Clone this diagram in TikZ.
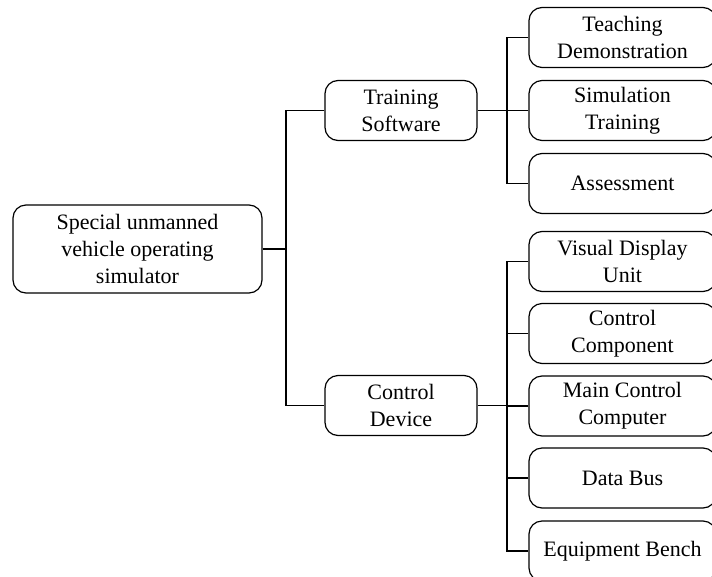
\documentclass[tikz,border=0pt]{standalone}
\usepackage{fontspec}
\setmainfont{Liberation Serif}
\begin{document}
\begin{tikzpicture}[x=1pt,y=-1pt,
  box/.style={draw,line width=1.2pt,rounded corners=13pt,align=center,
    font=\fontsize{22}{27}\selectfont,inner sep=0pt},
  rootbox/.style={box,minimum width=249pt,minimum height=88pt},
  midbox/.style={box,minimum width=152pt,minimum height=60pt},
  leafbox/.style={box,minimum width=187pt,minimum height=60pt},
  conn/.style={line width=1.2pt}]
\useasboundingbox (0,0) rectangle (712,576);
\node[rootbox] (root) at (137.5,249) {Special unmanned\\vehicle operating\\simulator};
\node[midbox] (ts) at (401,110.5) {Training\\Software};
\node[midbox] (cd) at (401,405.5) {Control\\Device};
\node[leafbox] (td) at (622.5,37.5) {Teaching\\Demonstration};
\node[leafbox] (st) at (622.5,110.5) {Simulation\\Training};
\node[leafbox] (as) at (622.5,183.5) {Assessment};
\node[leafbox] (vd) at (622.5,261.5) {Visual Display\\Unit};
\node[leafbox] (cc) at (622.5,333.5) {Control\\Component};
\node[leafbox] (mc) at (622.5,406) {Main Control\\Computer};
\node[leafbox] (db) at (622.5,478) {Data Bus};
\node[leafbox] (eb) at (622.5,551) {Equipment Bench};
\coordinate (trunk) at (286,249);
\coordinate (b1) at (507,110.5);
\coordinate (b2) at (507,405.5);
\draw[conn] (root.east) -- (trunk);
\draw[conn] (ts.west) -| (trunk) |- (cd.west);
\draw[conn] (ts.east) -- (b1);
\draw[conn] (td.west) -| (b1) |- (as.west);
\draw[conn] (st.west) -- (b1);
\draw[conn] (cd.east) -- (b2);
\draw[conn] (vd.west) -| (b2) |- (eb.west);
\draw[conn] (cc.west) -| (b2);
\draw[conn] (mc.west) -| (b2);
\draw[conn] (db.west) -| (b2);
\end{tikzpicture}
\end{document}
